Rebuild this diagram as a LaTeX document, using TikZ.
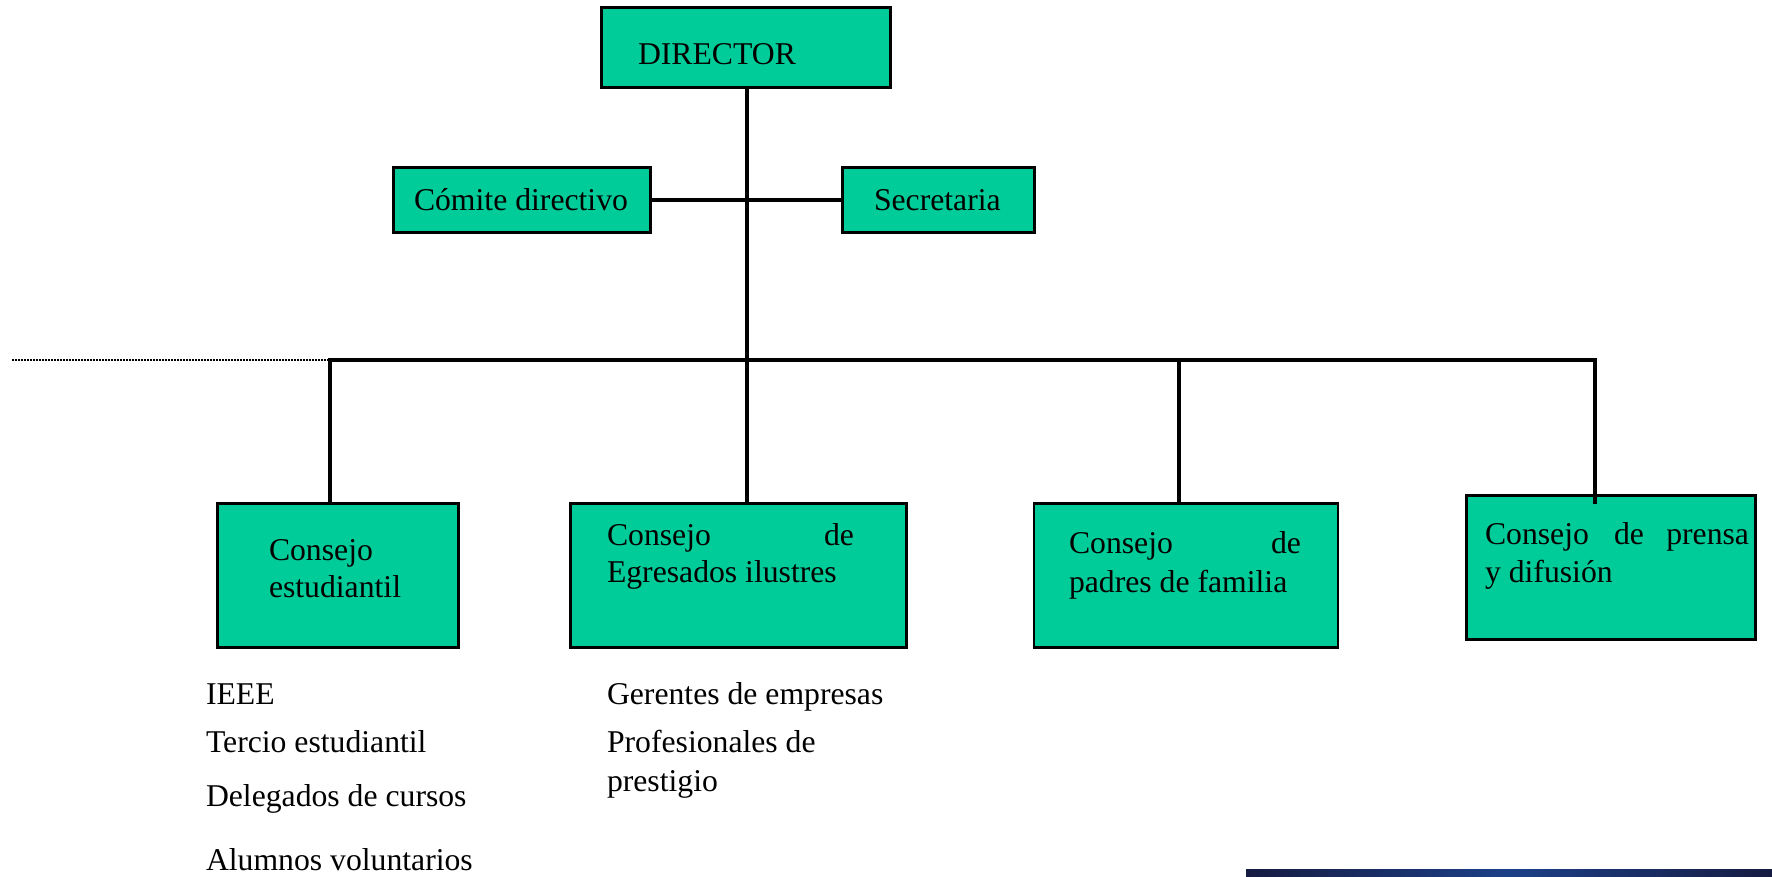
\documentclass[tikz,border=0pt]{standalone}
\usepackage{fontspec}
\setmainfont{Liberation Serif}
\definecolor{boxgreen}{RGB}{0,204,153}
\definecolor{navyedge}{RGB}{22,27,66}
\definecolor{navymid}{RGB}{28,64,136}
\tikzset{
  x=1pt,y=-1pt,
  cbox/.style={draw=black,line width=2.4pt,fill=boxgreen,anchor=north west,inner sep=0pt,outer sep=0pt},
  lbl/.style={anchor=base west,inner sep=0pt,outer sep=0pt,font=\fontsize{31.7}{38}\selectfont},
  conn/.style={line width=3.4pt,black},
  dots/.style={line width=1.5pt,black,dash pattern=on 1.5pt off 1.5pt}
}
\begin{document}
\begin{tikzpicture}
\useasboundingbox (0,0) rectangle (1772,877);
\path[left color=navyedge,right color=navyedge,middle color=navymid] (1246,869) rectangle (1772,877);
\coordinate (bL) at (330,360);
\coordinate (bP) at (1179,360);
\coordinate (bR) at (1595,360);
\coordinate (dotL) at (12,360);
\coordinate (cross) at (747,200);
\node[cbox,minimum width=289pt,minimum height=80pt] (dir) at (601.5,7.5) {};
\node[cbox,minimum width=257pt,minimum height=65pt] (com) at (393.5,167.5) {};
\node[cbox,minimum width=192pt,minimum height=65pt] (sec) at (842.5,167.5) {};
\node[cbox,minimum width=241pt,minimum height=144pt] (est) at (217.5,503.5) {};
\node[cbox,minimum width=336pt,minimum height=144pt] (egr) at (570.5,503.5) {};
\node[cbox,minimum width=304pt,minimum height=144pt] (pad) at (1034,503.5) {};
\node[cbox,minimum width=289pt,minimum height=144pt] (pre) at (1466.5,495.5) {};
\draw[dots] (dotL) -- (bL);
\draw[conn] (dir.south -| cross) -- (egr.north -| cross);
\draw[conn] (com.east |- cross) -- (sec.west |- cross);
\draw[conn,line cap=rect] (est.north -| bL) -- (bL) -- (bR) -- (pre.north -| bR) -- ++(0,7);
\draw[conn] (bP) -- (pad.north -| bP);
\node[lbl] (t1) at (638,65) {DIRECTOR};
\node[lbl] (t2) at (414,211) {Cómite directivo};
\node[lbl] (t3) at (874,211) {Secretaria};
\node[lbl] (t4) at (269,560) {Consejo};
\node[lbl] (t5) at (269,597) {estudiantil};
\node[lbl] (t6) at (607,545) {Consejo};
\node[lbl,anchor=base east] (t7) at (854,545) {de};
\node[lbl] (t8) at (607,582) {Egresados ilustres};
\node[lbl] (t9) at (1069,553) {Consejo};
\node[lbl,anchor=base east] (t10) at (1301,553) {de};
\node[lbl] (t11) at (1069,592) {padres de familia};
\node[lbl] (t12) at (1485,544) {Consejo};
\node[lbl] (t13) at (1614,544) {de};
\node[lbl,anchor=base east] (t14) at (1749,544) {prensa};
\node[lbl] (t15) at (1485,582) {y difusión};
\node[lbl] (t16) at (206,704) {IEEE};
\node[lbl] (t17) at (206,752) {Tercio estudiantil};
\node[lbl] (t18) at (206,806) {Delegados de cursos};
\node[lbl] (t19) at (206,870) {Alumnos voluntarios};
\node[lbl] (t20) at (607,704) {Gerentes de empresas};
\node[lbl] (t21) at (607,752) {Profesionales de};
\node[lbl] (t22) at (607,791) {prestigio};
\end{tikzpicture}
\end{document}
